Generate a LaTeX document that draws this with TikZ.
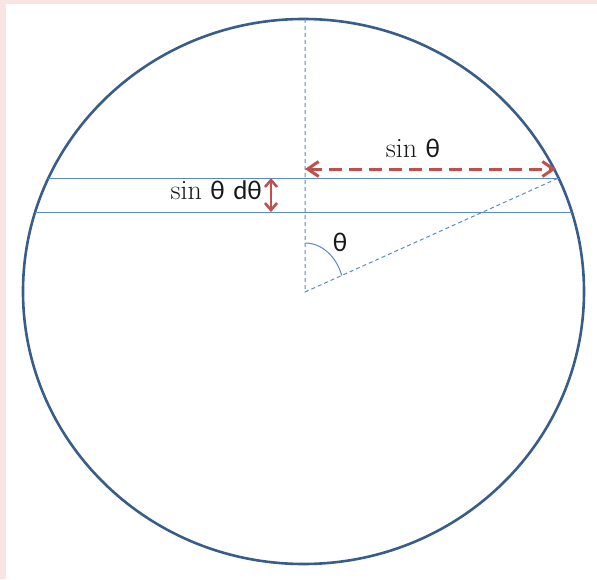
\documentclass[tikz,border=0pt]{standalone}
\usepackage{fontspec}
\usepackage{tikz}
\usetikzlibrary{arrows.meta}
\newfontfamily\calibri{Carlito}
\newcommand{\thet}{{\calibri\fontsize{27}{30}\selectfont θ}}
\newcommand{\dthet}{{\calibri\fontsize{27}{30}\selectfont dθ}}
\definecolor{rimblue}{HTML}{385D8A}
\definecolor{lineblue}{HTML}{5B8AC6}
\definecolor{arrowred}{HTML}{C0504D}
\definecolor{pinkbg}{HTML}{F9E4E4}

\begin{document}
\begin{tikzpicture}[x=1pt, y=1pt, >={Straight Barb[length=11pt, width=15pt]},
    guide/.style={draw=lineblue, line width=1pt},
    dashguide/.style={guide, dash pattern=on 4pt off 3pt},
    measure/.style={draw=arrowred, line width=3pt, dash pattern=on 13pt off 7pt, <->},
    lbl/.style={font=\fontsize{28}{30}\selectfont, text=black!90, inner sep=0pt}]
    % Background strips
    \useasboundingbox (-305,-287) rectangle (292,292);
    \fill[pinkbg] (-305,-287) rectangle (-299,292);
    \fill[pinkbg] (-305,288) rectangle (292,292);

    % The circle
    \coordinate (O) at (0,0);
    \draw[rimblue, line width=2.6pt] (-1.5,0.5) ellipse [x radius=280.5, y radius=272.5];

    % Points on the rim
    \coordinate (T) at (0,273);
    \coordinate (A) at (253.5,114);
    \coordinate (B) at (-256.5,114);
    \coordinate (C) at (-269.8,80);
    \coordinate (D) at (266.8,80);

    % The thin strip
    \draw[guide] (B) -- (A);
    \draw[guide] (C) -- (D);

    % Axis, radius and angle
    \draw[dashguide] (T) -- (O) -- (A);
    \coordinate (S) at (0,49);
    \draw[guide] (S) arc [start angle=90, end angle=19.7, x radius=39, y radius=49];
    \node[lbl, anchor=base] (ang) at (35,41) {\thet};

    % Measures
    \coordinate (P) at (0,123);
    \coordinate (Q) at (251,123);
    \draw[measure] (P) -- (Q);
    \node[lbl, anchor=base] (w) at (108,135) {sin \thet};

    \coordinate (E) at (-34,114);
    \coordinate (F) at (-34,80);
    \draw[draw=arrowred, line width=2.6pt, <->, >={Straight Barb[length=7pt, width=12pt]}] (F) -- (E);
    \node[lbl, anchor=base east] (h) at (-43,93) {sin \thet\ \dthet};
\end{tikzpicture}
\end{document}
